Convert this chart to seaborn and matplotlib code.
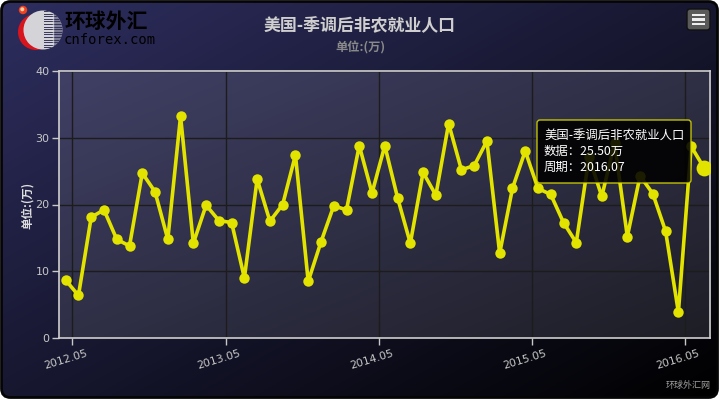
import numpy as np
import pandas as pd
import matplotlib
matplotlib.use("Agg")
import matplotlib.pyplot as plt
import matplotlib.transforms as mtransforms
from matplotlib.patches import FancyBboxPatch, Circle, Rectangle
import seaborn as sns

# Monthly non-farm payrolls change, seasonally adjusted (unit: 10k persons)
periods = [f"{y}.{m:02d}" for y in range(2012, 2017) for m in range(1, 13)]
periods = periods[periods.index("2012.05"):periods.index("2016.07") + 1]
values = [8.7, 6.4, 18.1, 19.2, 14.8, 13.8, 24.7, 21.9, 14.8, 33.2,
          14.2, 19.9, 17.6, 17.3, 9.0, 23.8, 17.5, 20.0, 27.4, 8.5,
          14.4, 19.8, 19.2, 28.8, 21.7, 28.8, 21.0, 14.2, 24.8, 21.4,
          32.1, 25.2, 25.8, 29.5, 12.7, 22.4, 28.0, 22.4, 21.5, 17.3,
          14.3, 27.1, 21.2, 29.2, 15.2, 24.3, 21.6, 16.0, 3.9, 28.7,
          25.5]
tick_labels = ["2012.05", "2013.05", "2014.05", "2015.05", "2016.05"]
y_ticks = [0, 10, 20, 30, 40]

title = "美国-季调后非农就业人口"
unit = "单位:(万)"
credit = "环球外汇网"

sns.set_theme(style="dark")
plt.rcParams["font.family"] = ["Noto Sans CJK SC", "DejaVu Sans"]

W, H = 719, 399
fig = plt.figure(figsize=(W / 100, H / 100), dpi=100)
fig.patch.set_facecolor("white")

# ---- chart background with rounded frame ----
bg = fig.add_axes([0, 0, 1, 1], zorder=-10)
bg.set_xlim(0, W)
bg.set_ylim(H, 0)
bg.axis("off")


def diag_gradient(c0, c1, ny=200, nx=360):
    yy, xx = np.mgrid[0:1:ny * 1j, 0:1:nx * 1j]
    t = ((xx + yy) / 2)[..., None]
    return np.array(c0) / 255 * (1 - t) + np.array(c1) / 255 * t


frame = FancyBboxPatch((1.5, 1.5), W - 3, H - 3,
                       boxstyle="round,pad=0,rounding_size=9",
                       facecolor="none", edgecolor="#050505", lw=2, zorder=5)
bg.add_patch(frame)
im = bg.imshow(diag_gradient((46, 46, 96), (0, 0, 0)),
               extent=(0, W, H, 0), aspect="auto", zorder=0)
im.set_clip_path(frame)

# logo
bg.add_patch(Circle((36, 32), 18, facecolor="#d8141c", edgecolor="none", zorder=2))
bg.add_patch(Circle((43, 30), 19.5, facecolor="#d4d4d8", edgecolor="none", zorder=3))
sphere = Circle((43, 30), 19.5, facecolor="none", edgecolor="none")
bg.add_patch(sphere)
for yy in np.arange(11, 50, 2.6):
    st = Rectangle((44, yy), 22, 1.1, facecolor="#2a2a55", edgecolor="none",
                   alpha=0.9, zorder=4)
    bg.add_patch(st)
    st.set_clip_path(sphere)
fade = Rectangle((53, 8), 14, 44, facecolor="#2a2a55", alpha=0.5, zorder=4)
bg.add_patch(fade)
fade.set_clip_path(sphere)
bg.add_patch(Circle((23, 10), 4.2, facecolor="#f04020", edgecolor="none", zorder=5))
bg.add_patch(Circle((22.3, 9.3), 2.0, facecolor="#ffd0a0", edgecolor="none", zorder=6))
bg.text(65, 21, "环球外汇", fontsize=15, fontweight="bold", color="#000000",
        va="center", ha="left", zorder=6)
bg.text(64, 40, "cnforex.com", fontsize=10, family="DejaVu Sans Mono",
        color="#000000", va="center", ha="left", zorder=6)

# menu button
btn = FancyBboxPatch((687, 9), 23, 21, boxstyle="round,pad=0,rounding_size=3",
                     facecolor="#5a5a5a", edgecolor="#111111", lw=1, zorder=5)
bg.add_patch(btn)
for yy in (15, 19.5, 24):
    bg.add_patch(Rectangle((692, yy - 1.2), 13, 2.4, facecolor="#eeeeee",
                           edgecolor="none", zorder=6))

# titles and labels
bg.text(360, 26, title, fontsize=12.2, fontweight="bold", color="#cfcfcf",
        ha="center", va="center")
bg.text(360, 48, unit, fontsize=8.8, fontweight="bold", color="#8a8a8a",
        ha="center", va="center")
bg.text(27, 205, unit, fontsize=8.3, fontweight="bold", color="#e0e0e0",
        ha="center", va="center", rotation=90)
bg.text(688, 385, credit, fontsize=6.5, color="#a0a0a0", ha="center", va="center")

# ---- plot area ----
left, right, top, bottom = 59.3, 710.3, 70.7, 338.3
ax = fig.add_axes([left / W, 1 - bottom / H, (right - left) / W, (bottom - top) / H])
n = len(values)
ax.set_xlim(-0.5, n - 0.5)
ax.set_ylim(0, 40)
ax.patch.set_visible(False)
ax.imshow(diag_gradient((64, 64, 102), (30, 30, 38)),
          extent=(-0.5, n - 0.5, 0, 40), aspect="auto", zorder=0)

df = pd.DataFrame({"idx": np.arange(n), "value": values, "period": periods})
sns.lineplot(data=df, x="idx", y="value", ax=ax, color="#e3e300", lw=2.6,
             marker="o", markersize=7.5, markeredgewidth=0, zorder=3)
last = df.iloc[[-1]]
sns.scatterplot(data=last, x="idx", y="value", ax=ax, color="#e3e300",
                s=130, linewidth=0, zorder=4)

tick_pos = [periods.index(t) + 0.53 for t in tick_labels]
ax.set_xticks(tick_pos)
ax.set_xticklabels([])
xlab_tr = mtransforms.blended_transform_factory(ax.transData, ax.transAxes) + \
    mtransforms.ScaledTranslation(-7 / 100, -21 / 100, fig.dpi_scale_trans)
for pos, lab in zip(tick_pos, tick_labels):
    ax.text(pos, 0, lab, transform=xlab_tr, rotation=17, ha="center",
            va="center", rotation_mode="anchor", color="#c8c8c8",
            fontsize=7.8, family="DejaVu Sans", clip_on=False)
ax.set_yticks(y_ticks)
ax.set_yticklabels([str(v) for v in y_ticks], color="#c8c8c8", fontsize=8,
                   family="DejaVu Sans")
ax.set_xlabel("")
ax.set_ylabel("")
ax.tick_params(axis="both", which="both", length=5, width=1, color="#c8c8c8",
               direction="out", pad=2, bottom=True, left=True)
ax.grid(True, color="#1c1c1c", lw=1)
for sp in ax.spines.values():
    sp.set_visible(True)
    sp.set_color("#cfcfcf")
    sp.set_linewidth(1.2)

# hover tooltip for the latest point
tip = FancyBboxPatch((537, 120), 154, 63, boxstyle="round,pad=0,rounding_size=3",
                     facecolor="#000000", alpha=0.88, edgecolor="#d8d800",
                     lw=1, zorder=20)
bg2 = fig.add_axes([0, 0, 1, 1], zorder=20)
bg2.set_xlim(0, W)
bg2.set_ylim(H, 0)
bg2.axis("off")
bg2.patch.set_visible(False)
bg2.add_patch(tip)
tip_lines = [title,
             f"数据：{values[-1]:.2f}万",
             f"周期：{periods[-1]}"]
for k, line in enumerate(tip_lines):
    bg2.text(544, 136 + k * 15.7, line, fontsize=8.9, color="#ffffff",
             ha="left", va="center", zorder=21)

fig.savefig("out.png", dpi=100, facecolor=fig.get_facecolor())
